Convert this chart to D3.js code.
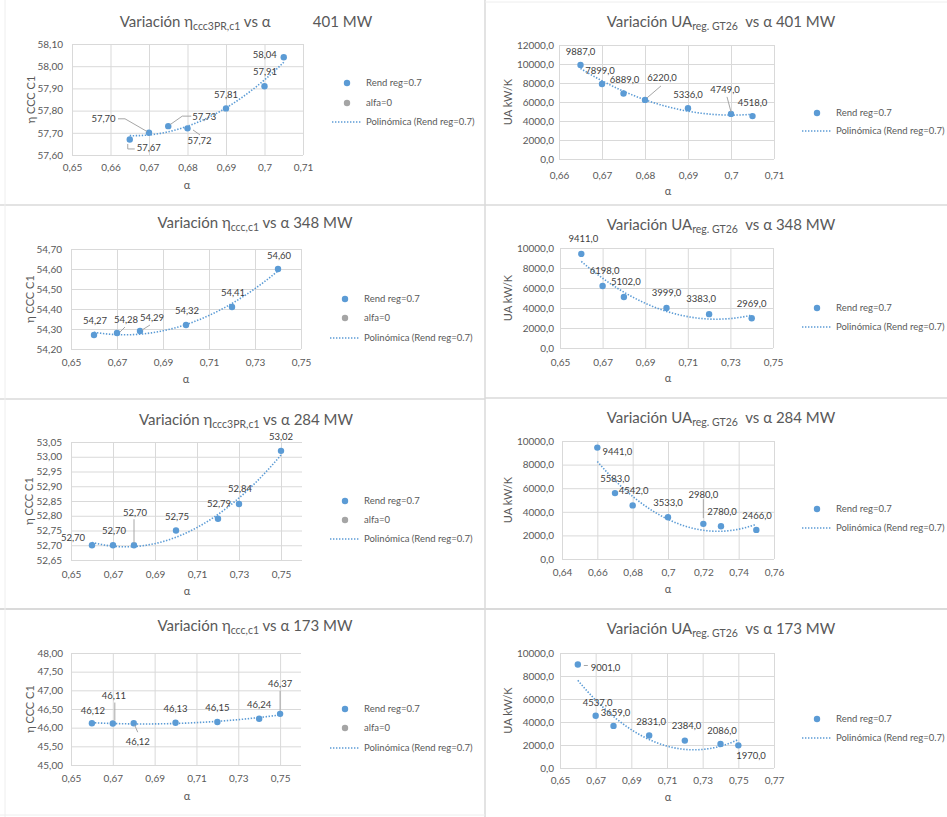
<!DOCTYPE html>
<html>
<head>
<meta charset="utf-8">
<script src="https://cdn.jsdelivr.net/npm/d3@7"></script>
<style>
  html, body { margin: 0; padding: 0; background: #fff; }
  svg { display: block; font-family: Lato, "Open Sans", sans-serif; }
  text { white-space: pre; }
</style>
</head>
<body>
<svg id="chart" width="947" height="817"></svg>
<script>
// ---- data: regenerator effectiveness (α) against cycle efficiency and UA ----
const alpha401 = [0.665, 0.67, 0.675, 0.68, 0.69, 0.70, 0.705];
const eta401   = [57.67, 57.70, 57.73, 57.72, 57.81, 57.91, 58.04];
const ua401    = [9887, 7899, 6889, 6220, 5336, 4749, 4518];

const alpha348 = [0.66, 0.67, 0.68, 0.70, 0.72, 0.74];
const eta348   = [54.27, 54.28, 54.29, 54.32, 54.41, 54.60];
const ua348    = [9411, 6198, 5102, 3999, 3383, 2969];

const alpha284 = [0.66, 0.67, 0.68, 0.70, 0.72, 0.73, 0.75];
const eta284   = [52.70, 52.70, 52.70, 52.75, 52.79, 52.84, 53.02];
const ua284    = [9441, 5583, 4542, 3533, 2980, 2780, 2466];

const alpha173 = [0.66, 0.67, 0.68, 0.70, 0.72, 0.74, 0.75];
const eta173   = [46.12, 46.11, 46.12, 46.13, 46.15, 46.24, 46.37];
const ua173    = [9001, 4537, 3659, 2831, 2384, 2086, 1970];

// ---- tick values ----
const xTicksStep1From65 = [0.65, 0.66, 0.67, 0.68, 0.69, 0.70, 0.71];
const xTicksStep1From66 = [0.66, 0.67, 0.68, 0.69, 0.70, 0.71];
const xTicksStep2From65 = [0.65, 0.67, 0.69, 0.71, 0.73, 0.75];
const xTicksStep2To77   = [0.65, 0.67, 0.69, 0.71, 0.73, 0.75, 0.77];
const xTicksStep2From64 = [0.64, 0.66, 0.68, 0.70, 0.72, 0.74, 0.76];
const yTicksEta401 = [57.60, 57.70, 57.80, 57.90, 58.00, 58.10];
const yTicksEta348 = [54.20, 54.30, 54.40, 54.50, 54.60, 54.70];
const yTicksEta284 = [52.65, 52.70, 52.75, 52.80, 52.85, 52.90, 52.95, 53.00, 53.05];
const yTicksEta173 = [45.00, 45.50, 46.00, 46.50, 47.00, 47.50, 48.00];
const yTicksUA12k  = [0, 2000, 4000, 6000, 8000, 10000, 12000];
const yTicksUA10k  = [0, 2000, 4000, 6000, 8000, 10000];

// ---- text ----
const seriesName = "Rend reg=0.7";
const refName = "alfa=0";
const trendName = "Polinómica (Rend reg=0.7)";
const etaAxisTitle = "η CCC C1";
const uaAxisTitle = "UA kW/K";
const alphaAxisTitle = "α";

// ---- colours ----
const BLUE = "#5B9BD5", GREY = "#A5A5A5", GRID = "#D9D9D9", TXT = "#595959", LBL = "#404040", LEADER = "#A6A6A6";

const svg = d3.select("#chart");

const comma = s => s.replace(".", ",");
const fmtAlpha = v => comma(String(+v.toFixed(4)));
const fmtFixed = d => v => comma(v.toFixed(d));

// least-squares polynomial (order 2) trendline
function quadFit(xs, ys) {
  const mx = d3.mean(xs);
  const s = [0, 0, 0, 0, 0], t = [0, 0, 0];
  xs.forEach((xv, i) => {
    const u = xv - mx; let p = 1;
    for (let k = 0; k < 5; k++) { s[k] += p; if (k < 3) t[k] += p * ys[i]; p *= u; }
  });
  const A = [[s[0], s[1], s[2], t[0]], [s[1], s[2], s[3], t[1]], [s[2], s[3], s[4], t[2]]];
  for (let i = 0; i < 3; i++)
    for (let j = i + 1; j < 3; j++) {
      const f = A[j][i] / A[i][i];
      for (let k = i; k < 4; k++) A[j][k] -= f * A[i][k];
    }
  const c = [0, 0, 0];
  for (let i = 2; i >= 0; i--) {
    let v = A[i][3];
    for (let k = i + 1; k < 3; k++) v -= A[i][k] * c[k];
    c[i] = v / A[i][i];
  }
  return xv => { const u = xv - mx; return c[0] + c[1] * u + c[2] * u * u; };
}

// ---- frame of the 2 x 4 grid ----
const frame = svg.append("g").attr("stroke", "#DADADA").attr("fill", "none");
frame.append("line").attr("x1", 485).attr("x2", 485).attr("y1", 0).attr("y2", 817).attr("stroke-width", 1.5);
frame.append("line").attr("x1", 0).attr("x2", 947).attr("y1", 205).attr("y2", 205).attr("stroke-width", 1.5);
frame.append("line").attr("x1", 0).attr("x2", 485).attr("y1", 399).attr("y2", 399).attr("stroke-width", 1.5);
frame.append("line").attr("x1", 485).attr("x2", 947).attr("y1", 398).attr("y2", 398).attr("stroke-width", 1.5);
frame.append("line").attr("x1", 0).attr("x2", 947).attr("y1", 609).attr("y2", 609).attr("stroke-width", 2);
frame.append("line").attr("x1", 485).attr("x2", 947).attr("y1", 2).attr("y2", 2).attr("stroke", "#EEEEEE");
frame.append("line").attr("x1", 5).attr("x2", 5).attr("y1", 0).attr("y2", 817).attr("stroke", "#EEEEEE");
frame.append("line").attr("x1", 0).attr("x2", 485).attr("y1", 815).attr("y2", 815).attr("stroke", "#EEEEEE");

function styleAxis(sel, size) {
  sel.attr("font-family", null).attr("font-size", null);
  sel.select(".domain").remove();
  sel.selectAll(".tick line").attr("stroke", GRID).attr("stroke-width", 1);
  sel.selectAll(".tick text").attr("fill", TXT).attr("font-size", size);
}

const panels = [
  { title: ["Variación η", "ccc3PR,c1", " vs α           401 MW"], tx: 246, ty: 27,
    xs: alpha401, ys: eta401, dec: 2, yTitle: etaAxisTitle,
    xDomain: [0.65, 0.71], xTicks: xTicksStep1From65, yDomain: [57.6, 58.1], yTicks: yTicksEta401,
    plot: [72, 303, 44, 155], yPad: 9, xOff: 12, yTitleX: 31, xTitleX: 187, xTitleY: 189,
    legend: [347, 83, 103, 122], ref: true,
    offsets: [[19, 8.5], [-45.5, -14], [36, -9], [12, 12.6], [0, -14], [0.5, -15], [-19, -3]],
    leaders: { 0: [[-2, 4.5], [-2, 9.5], [5, 9.5]], 1: [[-31, -14], [-24, -14], [-2, -1.3]],
               2: [[2, -1.6], [14, -10], [23, -10]], 3: [[5.5, 1.6], [12.5, 6.6]] } },
  { title: ["Variación UA", "reg. GT26", "  vs α 401 MW"], tx: 721, ty: 27,
    xs: alpha401, ys: ua401, dec: 1, yTitle: uaAxisTitle,
    xDomain: [0.66, 0.71], xTicks: xTicksStep1From66, yDomain: [0, 12000], yTicks: yTicksUA12k,
    plot: [559, 774, 45, 159], yPad: 5, xOff: 16, yTitleX: 508, xTitleX: 668, xTitleY: 195,
    legend: [817, 113, null, 131], ref: false,
    offsets: [[0, -13], [-2, -13], [1, -13.6], [17, -22], [0, -14], [-6, -24], [0, -13]],
    leaders: { 3: [[2, -2], [16, -14]], 5: [[-4, -17], [0, -2]] } },
  { title: ["Variación η", "ccc,c1", " vs α 348 MW"], tx: 255, ty: 228,
    xs: alpha348, ys: eta348, dec: 2, yTitle: etaAxisTitle,
    xDomain: [0.65, 0.75], xTicks: xTicksStep2From65, yDomain: [54.2, 54.7], yTicks: yTicksEta348,
    plot: [71, 301, 249, 349], yPad: 9, xOff: 13, yTitleX: 30, xTitleX: 186, xTitleY: 383,
    legend: [345, 299, 318, 338], ref: true,
    offsets: [[1, -14], [9, -13], [12, -13], [1, -14], [1, -14], [1, -13]],
    leaders: { 1: [[3, -1], [8, -6]], 2: [[2, -1], [10, -6]] } },
  { title: ["Variación UA", "reg. GT26", "  vs α 348 MW"], tx: 721, ty: 230,
    xs: alpha348, ys: ua348, dec: 1, yTitle: uaAxisTitle,
    xDomain: [0.65, 0.75], xTicks: xTicksStep2From65, yDomain: [0, 10000], yTicks: yTicksUA10k,
    plot: [560, 773, 248, 348], yPad: 6, xOff: 14, yTitleX: 508, xTitleX: 668, xTitleY: 382,
    legend: [817, 308, null, 327], ref: false,
    offsets: [[2, -15], [2, -15], [2, -15], [0, -15], [-8, -15], [0, -14.6]],
    leaders: {} },
  { title: ["Variación η", "ccc3PR,c1", " vs α 284 MW"], tx: 246, ty: 425,
    xs: alpha284, ys: eta284, dec: 2, yTitle: etaAxisTitle,
    xDomain: [0.65, 0.76], xTicks: xTicksStep2From65, yDomain: [52.65, 53.05], yTicks: yTicksEta284,
    plot: [71, 302, 442, 560], yPad: 9, xOff: 14, yTitleX: 29, xTitleX: 187, xTitleY: 595,
    legend: [345, 501, 520, 539], ref: true,
    offsets: [[-19, -8], [1, -15], [1, -33], [1, -14], [1, -15], [1, -15], [0, -14.5]],
    leaders: { 2: [[0, -26], [0, -2]] } },
  { title: ["Variación UA", "reg. GT26", "  vs α 284 MW"], tx: 721, ty: 423,
    xs: alpha284, ys: ua284, dec: 1, yTitle: uaAxisTitle,
    xDomain: [0.64, 0.76], xTicks: xTicksStep2From64, yDomain: [0, 10000], yTicks: yTicksUA10k,
    plot: [562, 774, 441, 559], yPad: 8, xOff: 13, yTitleX: 508, xTitleX: 668, xTitleY: 593,
    legend: [817, 509, null, 528], ref: false,
    offsets: [[20, 4.4], [0, -14], [1, -14.6], [0, -14.5], [0, -28.7], [1, -14.3], [0.7, -14]],
    leaders: { 4: [[0, -24.7], [0, -5.7]] } },
  { title: ["Variación η", "ccc,c1", " vs α 173 MW"], tx: 255, ty: 631,
    xs: alpha173, ys: eta173, dec: 2, yTitle: etaAxisTitle,
    xDomain: [0.65, 0.76], xTicks: xTicksStep2From65, yDomain: [45, 48], yTicks: yTicksEta173,
    plot: [71, 301, 653, 765], yPad: 8, xOff: 13, yTitleX: 30, xTitleX: 187, xTitleY: 800,
    legend: [345, 709, 728, 748], ref: true,
    offsets: [[1, -13], [1, -28], [4, 18], [0, -14], [0, -14], [0, -14], [0, -30]],
    leaders: { 1: [[2, -21], [2, -3]], 2: [[1, 2], [4, 9]], 6: [[0, -23], [0, -3]] } },
  { title: ["Variación UA", "reg. GT26", "  vs α 173 MW"], tx: 721, ty: 634,
    xs: alpha173, ys: ua173, dec: 1, yTitle: uaAxisTitle,
    xDomain: [0.65, 0.77], xTicks: xTicksStep2To77, yDomain: [0, 10000], yTicks: yTicksUA10k,
    plot: [560, 774, 653, 768], yPad: 6, xOff: 12, yTitleX: 508, xTitleX: 668, xTitleY: 801,
    legend: [817, 719, null, 738], ref: false,
    offsets: [[27.7, 3], [2, -13.5], [2, -13.6], [2, -14], [1.7, -14.6], [1.5, -13.7], [12.7, 10]],
    leaders: { 0: [[6, 1], [10, 1]] } }
];

function drawPanel(p) {
  const g = svg.append("g");
  const [x0, x1, y0, y1] = p.plot;
  const x = d3.scaleLinear().domain(p.xDomain).range([x0, x1]);
  const y = d3.scaleLinear().domain(p.yDomain).range([y1, y0]);

  // gridlines and tick labels
  g.append("g").attr("transform", `translate(${x0},0)`)
    .call(d3.axisLeft(y).tickValues(p.yTicks).tickFormat(fmtFixed(p.dec))
      .tickSize(-(x1 - x0)).tickPadding(p.yPad))
    .call(styleAxis, 10);
  g.append("g").attr("transform", `translate(0,${y1})`)
    .call(d3.axisBottom(x).tickValues(p.xTicks).tickFormat(fmtAlpha)
      .tickSize(-(y1 - y0)).tickPadding(p.xOff - 3.5))
    .call(styleAxis, 10);

  // title with subscript
  const t = g.append("text").attr("x", p.tx).attr("y", p.ty)
    .attr("text-anchor", "middle").attr("fill", TXT).attr("font-size", 15);
  t.append("tspan").text(p.title[0]);
  t.append("tspan").attr("font-size", 10.5).attr("dy", 3).text(p.title[1]);
  t.append("tspan").attr("dy", -3).text(p.title[2]);

  // axis titles
  g.append("text").attr("transform", `translate(${p.yTitleX},${(y0 + y1) / 2}) rotate(-90)`)
    .attr("text-anchor", "middle").attr("dy", "0.35em").attr("fill", TXT).attr("font-size", 11)
    .text(p.yTitle);
  g.append("text").attr("x", p.xTitleX).attr("y", p.xTitleY)
    .attr("text-anchor", "middle").attr("fill", TXT).attr("font-size", 11).text(alphaAxisTitle);

  // polynomial trendline
  const fit = quadFit(p.xs, p.ys);
  const [lo, hi] = d3.extent(p.xs);
  const samples = d3.range(0, 81).map(i => lo + (hi - lo) * i / 80);
  g.append("path").datum(samples)
    .attr("d", d3.line().x(d => x(d)).y(d => y(fit(d))))
    .attr("fill", "none").attr("stroke", BLUE).attr("stroke-width", 1.6)
    .attr("stroke-dasharray", "1.4,1.6");

  // points
  const pts = p.xs.map((xv, i) => ({ px: x(xv), py: y(p.ys[i]), v: p.ys[i], i }));
  g.selectAll("circle.pt").data(pts).join("circle").attr("class", "pt")
    .attr("cx", d => d.px).attr("cy", d => d.py).attr("r", 3.2).attr("fill", BLUE);

  // leader lines
  pts.forEach(d => {
    const ld = p.leaders[d.i];
    if (!ld) return;
    g.append("path").datum(ld.map(([dx, dy]) => [d.px + dx, d.py + dy]))
      .attr("d", d3.line()).attr("fill", "none").attr("stroke", LEADER).attr("stroke-width", 1);
  });

  // data labels
  g.selectAll("text.lbl").data(pts).join("text").attr("class", "lbl")
    .attr("x", d => d.px + p.offsets[d.i][0]).attr("y", d => d.py + p.offsets[d.i][1])
    .attr("dy", "0.35em").attr("text-anchor", "middle").attr("fill", LBL).attr("font-size", 9.5)
    .text(d => fmtFixed(p.dec)(d.v));

  // legend
  const [mx, yA, yB, yC] = p.legend;
  const lg = g.append("g").attr("font-size", 9.5).attr("fill", TXT);
  lg.append("circle").attr("cx", mx).attr("cy", yA).attr("r", 3.2).attr("fill", BLUE);
  lg.append("text").attr("x", mx + 19).attr("y", yA).attr("dy", "0.35em").text(seriesName);
  if (p.ref) {
    lg.append("circle").attr("cx", mx).attr("cy", yB).attr("r", 3.2).attr("fill", GREY);
    lg.append("text").attr("x", mx + 19).attr("y", yB).attr("dy", "0.35em").text(refName);
  }
  lg.append("line").attr("x1", mx - 15).attr("x2", mx + 15).attr("y1", yC).attr("y2", yC)
    .attr("stroke", BLUE).attr("stroke-width", 1.6).attr("stroke-dasharray", "1.4,1.6");
  lg.append("text").attr("x", mx + 19).attr("y", yC).attr("dy", "0.35em").text(trendName);
}

panels.forEach(drawPanel);
</script>
</body>
</html>
